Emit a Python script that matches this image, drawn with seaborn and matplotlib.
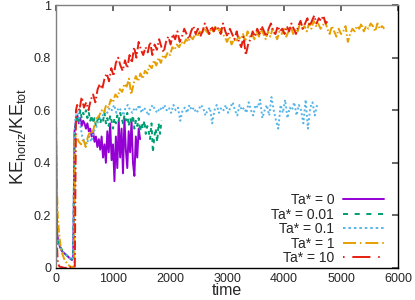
import numpy as np
import pandas as pd
import seaborn as sns
import matplotlib.pyplot as plt

# KE_horiz/KE_tot versus time for the five rotation rates
labels = ["Ta* = 0", "Ta* = 0.01", "Ta* = 0.1", "Ta* = 1", "Ta* = 10"]
colors = ["#9400D3", "#009E73", "#56B4E9", "#E69F00", "#E51E10"]

# early transient (explicit times) + sampled run (start, step, values)
ta0_early_t = [0, 10, 20, 40, 70, 100, 150, 200, 250, 280, 300, 310]
ta0_early_v = [.50, .22, .13, .10, .08, .065, .055, .045, .035, .03, .04, .20]
ta0_start, ta0_step = 325, 25
ta0_vals = [.52, .56, .58, .55, .57, .54, .56, .55, .53, .55,
            .52, .53, .50, .52, .48, .50, .46, .49, .45, .50,
            .42, .47, .40, .52, .44, .55, .41, .47, .33, .50,
            .38, .56, .42, .53, .36, .57, .45, .38, .52, .44,
            .56, .40, .35, .50, .42, .53, .49]

ta001_early_t = [0, 10, 20, 40, 70, 100, 150, 200, 250, 280, 300, 310]
ta001_early_v = [.52, .21, .12, .10, .085, .07, .055, .045, .035, .032, .045, .25]
ta001_start, ta001_step = 325, 25
ta001_vals = [.50, .56, .58, .55, .60, .57, .59, .58, .60, .57,
              .59, .56, .58, .55, .57, .54, .56, .58, .55, .57,
              .56, .59, .55, .57, .54, .58, .56, .53, .57, .55,
              .58, .56, .59, .57, .55, .58, .56, .59, .54, .57,
              .55, .58, .53, .56, .54, .57, .52, .55, .53, .56,
              .51, .54, .52, .49, .55, .44, .50, .53, .48, .55,
              .51, .56]

ta01_early_t = [0, 10, 20, 40, 70, 100, 150, 200, 250, 280, 300, 310, 320]
ta01_early_v = [.50, .20, .12, .10, .08, .065, .055, .045, .035, .03, .04, .20, .48]
ta01_start, ta01_step = 340, 40
ta01_vals = [.57, .60, .55, .50, .48, .47, .50, .48, .52, .53,
             .56, .57, .58, .60, .59, .61, .60, .62, .59, .61,
             .60, .58, .61, .62, .60, .59, .61, .60, .62, .59,
             .61, .60, .58, .61, .62, .60, .59, .61, .60, .62,
             .60, .61, .59, .62, .60, .61, .56, .60, .61, .59,
             .62, .60, .61, .59, .60, .62, .61, .58, .60, .61,
             .55, .60, .62, .59, .61, .60, .62, .59, .61, .63,
             .60, .58, .62, .60, .61, .59, .63, .60, .58, .62,
             .61, .64, .57, .60, .62, .58, .65, .60, .56, .53,
             .62, .59, .64, .57, .61, .60, .63, .58, .62, .60,
             .55, .64, .53, .61, .63, .58, .62]

ta1_early_t = [0, 10, 20, 30, 50, 75, 100, 150, 200, 250, 300, 320, 330, 340]
ta1_early_v = [.59, .40, .28, .20, .14, .09, .06, .03, .015, .005, .003, .01, .30, .50]
ta1_start, ta1_step = 360, 40
ta1_vals = [.50, .48, .47, .49, .46, .50, .52, .51, .55, .57,
            .58, .60, .59, .62, .61, .64, .63, .66, .65, .68,
            .67, .70, .69, .72, .66, .70, .73, .71, .74, .72,
            .75, .74, .77, .76, .79, .77, .80, .78, .81, .80,
            .82, .81, .84, .83, .85, .84, .86, .85, .87, .86,
            .88, .87, .89, .88, .90, .89, .91, .90, .89, .91,
            .90, .92, .90, .91, .89, .88, .86, .88, .85, .87,
            .86, .88, .87, .89, .86, .90, .88, .89, .87, .90,
            .88, .91, .89, .87, .90, .88, .91, .89, .87, .90,
            .89, .91, .88, .90, .92, .89, .91, .90, .93, .91,
            .92, .90, .93, .91, .94, .92, .93, .91, .92, .94,
            .91, .89, .92, .90, .88, .91, .89, .90, .92, .86,
            .89, .91, .90, .92, .91, .93, .90, .92, .91, .93,
            .92, .90, .93, .91, .92, .91]

ta10_early_t = [0, 5, 15, 30, 60, 150, 250, 330, 340, 350]
ta10_early_v = [.55, .30, .10, .02, .005, 0, .002, .005, .30, .60]
ta10_start, ta10_step = 370, 40
ta10_vals = [.62, .60, .65, .61, .63, .60, .64, .66, .63, .68,
             .70, .68, .72, .74, .71, .76, .73, .78, .80, .77,
             .75, .79, .76, .81, .78, .84, .80, .86, .83, .81,
             .84, .82, .86, .81, .85, .83, .87, .84, .82, .86,
             .88, .85, .89, .87, .90, .86, .88, .91, .89, .87,
             .90, .92, .89, .91, .88, .90, .93, .91, .89, .92,
             .90, .92, .91, .89, .93, .90, .88, .91, .89, .87,
             .90, .86, .84, .88, .81, .85, .87, .90, .88, .91,
             .89, .92, .90, .88, .91, .93, .90, .89, .92, .90,
             .91, .89, .92, .90, .93, .91, .89, .92, .94, .91,
             .93, .95, .92, .94, .96, .93, .95, .94, .96, .93, .94]

series = [
    (ta0_early_t, ta0_early_v, ta0_start, ta0_step, ta0_vals),
    (ta001_early_t, ta001_early_v, ta001_start, ta001_step, ta001_vals),
    (ta01_early_t, ta01_early_v, ta01_start, ta01_step, ta01_vals),
    (ta1_early_t, ta1_early_v, ta1_start, ta1_step, ta1_vals),
    (ta10_early_t, ta10_early_v, ta10_start, ta10_step, ta10_vals),
]

frames = []
for lab, (et, ev, t0, dt, vals) in zip(labels, series):
    t = list(et) + list(t0 + dt * np.arange(len(vals)))
    frames.append(pd.DataFrame({"time": t, "ke": list(ev) + list(vals), "Ta": lab}))
df = pd.concat(frames, ignore_index=True)

sns.set_theme(style="white")
plt.rcParams["font.family"] = ["Liberation Sans", "DejaVu Sans"]
plt.rcParams["mathtext.fontset"] = "custom"
plt.rcParams["mathtext.rm"] = "Liberation Sans"

fig, ax = plt.subplots(figsize=(4.15, 3.0), dpi=100)
fig.subplots_adjust(left=0.135, right=0.959, top=0.983, bottom=0.107)

# short dashes on the noisy curves, longer ones in the key
dashes = {labels[0]: "", labels[1]: (2, 2), labels[2]: (1, 1.3),
          labels[3]: (4, 1.2, 0.8, 1.2), labels[4]: (0.8, 1.5, 5, 1.5)}
key_dashes = [None, (0, (2.6, 3.4)), (0, (1.3, 1.5)),
              (0, (6.7, 2, 0.8, 2)), (13.3, (9.3, 4, 0.8, 4))]
sns.lineplot(data=df, x="time", y="ke", hue="Ta", style="Ta", hue_order=labels,
             style_order=labels, palette=colors, dashes=dashes, estimator=None,
             sort=False, linewidth=1.4, ax=ax)

handles, labs = ax.get_legend_handles_labels()
for h, d in zip(handles, key_dashes):
    if d is not None:
        h.set_linestyle(d)
ax.legend(handles, labs, loc="lower right", bbox_to_anchor=(0.976, -0.011),
          frameon=False, markerfirst=False, fontsize=10, handlelength=3.0,
          labelspacing=0.04, borderaxespad=0, handletextpad=0.6)

ax.set(xlim=(0, 6000), ylim=(0, 1))
ax.set_xticks([0, 1000, 2000, 3000, 4000, 5000, 6000])
ax.set_yticks([0, 0.2, 0.4, 0.6, 0.8, 1])
ax.set_yticklabels(["0", "0.2", "0.4", "0.6", "0.8", "1"])
ax.set_xlabel("time", fontsize=11.5, labelpad=-1)
ax.set_ylabel(r"KE$_{\mathregular{horiz}}$/KE$_{\mathregular{tot}}$", fontsize=13, labelpad=4)
ax.tick_params(direction="in", length=4, top=True, right=True, labelsize=9, pad=3.5,
               color="#555555")
for s in ["top", "left"]:
    ax.spines[s].set_color("#808080")
for s in ["right", "bottom"]:
    ax.spines[s].set_color("black")
for s in ax.spines.values():
    s.set_linewidth(1.0)

plt.savefig("out.png", dpi=100)
